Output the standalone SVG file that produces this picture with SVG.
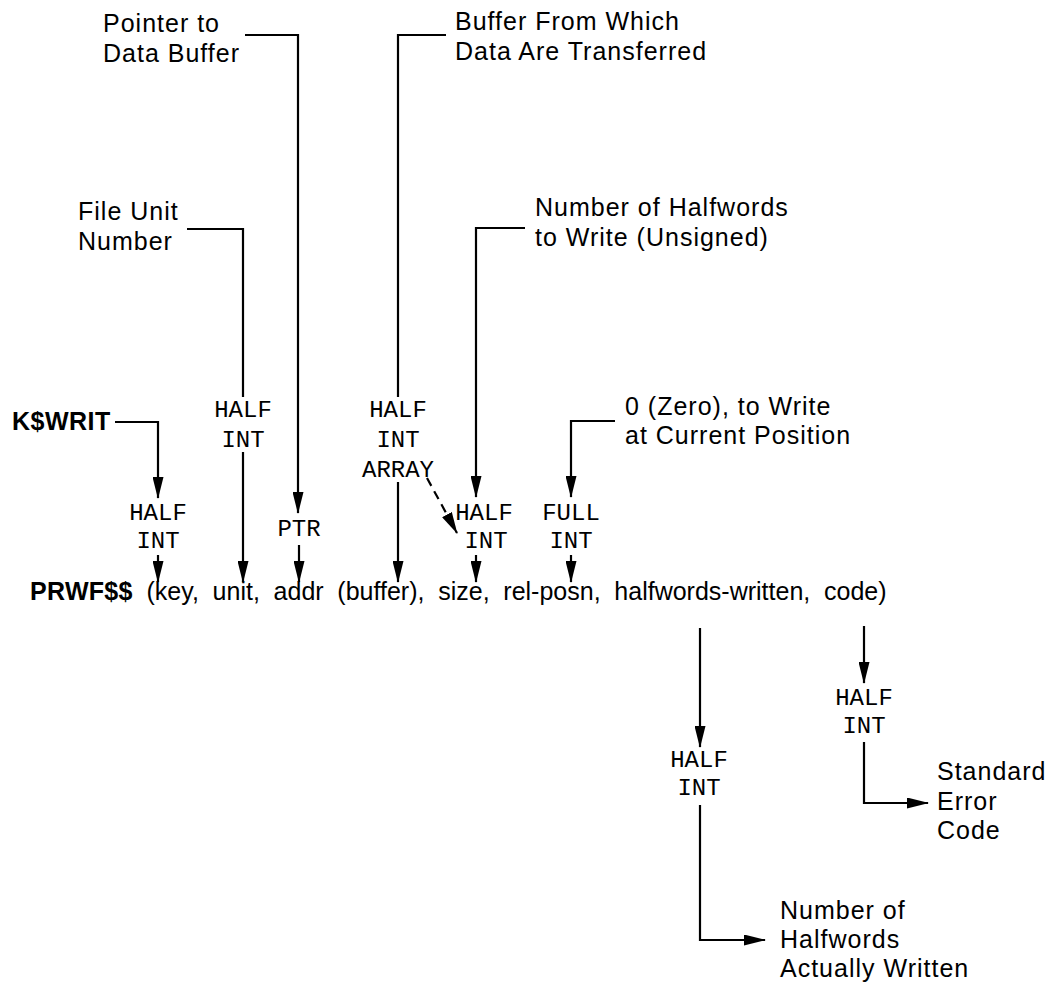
<svg xmlns="http://www.w3.org/2000/svg" width="1051" height="986" viewBox="0 0 1051 986">
<style>
.s{font-family:"Liberation Sans",Arial,sans-serif;font-size:25px;letter-spacing:1px;fill:#000}
.b{font-weight:bold;letter-spacing:0.5px}
.c{font-family:"Liberation Sans",Arial,sans-serif;font-size:25px;fill:#000}
.m{font-family:"Liberation Mono","Courier New",monospace;font-size:24px;fill:#000;text-anchor:middle}
.l{fill:none;stroke:#000;stroke-width:2.2}
.a{marker-end:url(#ar)}
.d{stroke-dasharray:9 6}
</style>
<defs>
<marker id="ar" viewBox="0 0 22 11" refX="21" refY="5.5" markerWidth="22" markerHeight="11" markerUnits="userSpaceOnUse" orient="auto">
<path d="M0,0 L22,5.5 L0,11 z" fill="#000"/>
</marker>
</defs>
<rect width="1051" height="986" fill="#fff"/>
<g id="labels">
<g id="pointer"><text class="s" x="103" y="32">Pointer to</text><text class="s" x="103" y="62">Data Buffer</text></g>
<g id="bufferfrom"><text class="s" x="455" y="30">Buffer From Which</text><text class="s" x="455" y="60">Data Are Transferred</text></g>
<g id="fileunit"><text class="s" x="78" y="220">File Unit</text><text class="s" x="78" y="250">Number</text></g>
<g id="numhalf"><text class="s" x="535" y="216">Number of Halfwords</text><text class="s" x="535" y="246">to Write (Unsigned)</text></g>
<g id="kwrit"><text class="s b" x="12" y="430">K$WRIT</text></g>
<g id="zero"><text class="s" x="625" y="415">0 (Zero), to Write</text><text class="s" x="625" y="444">at Current Position</text></g>
<g id="t-key"><text class="m" x="158" y="520">HALF</text><text class="m" x="158" y="548">INT</text></g>
<g id="t-unit"><text class="m" x="243" y="417">HALF</text><text class="m" x="243" y="447">INT</text></g>
<g id="t-addr"><text class="m" x="299" y="536">PTR</text></g>
<g id="t-buffer"><text class="m" x="398" y="417">HALF</text><text class="m" x="398" y="447">INT</text><text class="m" x="398" y="477">ARRAY</text></g>
<g id="t-size"><text class="m" x="484" y="520">HALF</text><text class="m" x="486" y="548">INT</text></g>
<g id="t-relposn"><text class="m" x="571" y="520">FULL</text><text class="m" x="571" y="548">INT</text></g>
<g id="call"><text class="c" x="30" y="600" word-spacing="6.8"><tspan font-weight="bold" letter-spacing="0.3">PRWF$$</tspan> (key, unit, addr (buffer), size, rel-posn, halfwords-written, code)</text></g>
<g id="t-hw"><text class="m" x="699" y="767">HALF</text><text class="m" x="699" y="795">INT</text></g>
<g id="t-code"><text class="m" x="864" y="705">HALF</text><text class="m" x="864" y="733">INT</text></g>
<g id="hwlabel"><text class="s" x="780" y="919">Number of</text><text class="s" x="780" y="948">Halfwords</text><text class="s" x="780" y="977">Actually Written</text></g>
<g id="errlabel"><text class="s" x="937" y="780">Standard</text><text class="s" x="937" y="810">Error</text><text class="s" x="937" y="839">Code</text></g>
</g>
<g id="connectors">
<path class="l a" d="M245,35 H298 V513"/>
<path class="l" d="M446,35 H398 V397"/>
<path class="l" d="M187,229 H243 V397"/>
<path class="l a" d="M525,228 H476 V497"/>
<path class="l a" d="M115,422 H158 V498"/>
<path class="l a" d="M615,421 H571 V497"/>
<path class="l a" d="M158,555 V582"/>
<path class="l a" d="M243,452 V582"/>
<path class="l a" d="M299,545 V582"/>
<path class="l a" d="M398,482 V582"/>
<path class="l a" d="M476,555 V582"/>
<path class="l a" d="M571,555 V582"/>
<path class="l d a" d="M427,478 L457,533"/>
<path class="l a" d="M700,628 V747"/>
<path class="l a" d="M864,626 V683"/>
<path class="l a" d="M700,805 V940 H765"/>
<path class="l a" d="M864,742 V803 H928"/>
</g>
</svg>
